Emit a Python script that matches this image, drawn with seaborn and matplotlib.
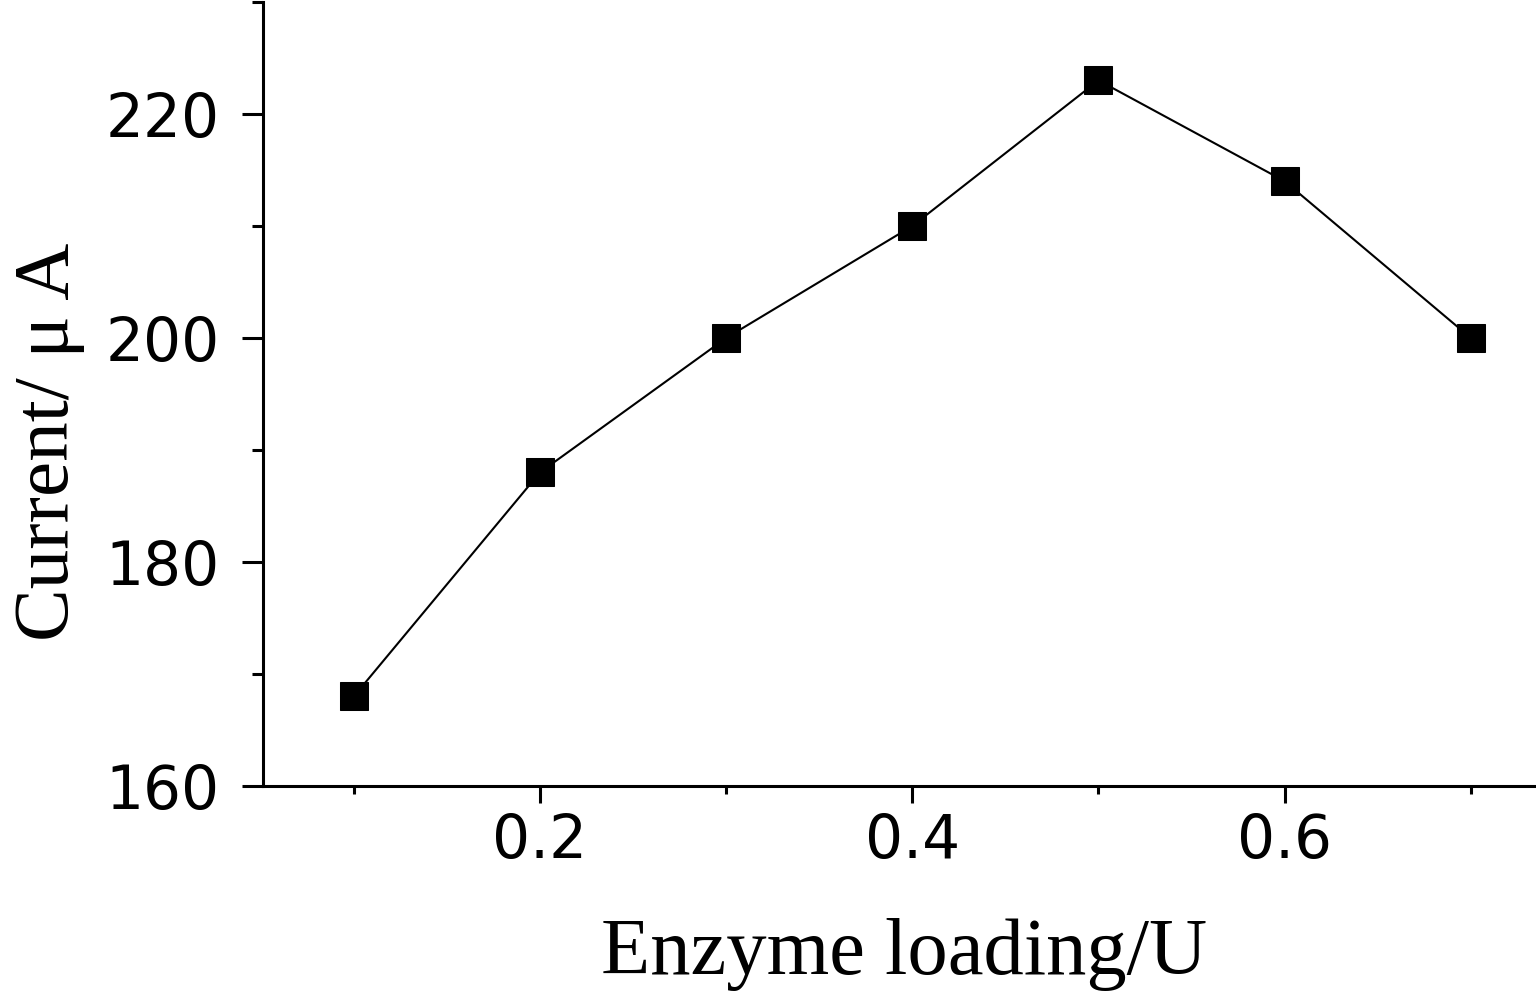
import matplotlib
matplotlib.use("Agg")
import matplotlib.pyplot as plt
import seaborn as sns
import pandas as pd
from matplotlib.ticker import MultipleLocator

enzyme_loading = [0.1, 0.2, 0.3, 0.4, 0.5, 0.6, 0.7]
current = [168, 188, 200, 210, 223, 214, 200]
x_ticks = [0.2, 0.4, 0.6]
x_tick_labels = ["0.2", "0.4", "0.6"]
y_ticks = [160, 180, 200, 220]
y_tick_labels = ["160", "180", "200", "220"]

sns.set_theme(style="ticks")
plt.rcParams['font.family'] = ['DejaVu Sans']

df = pd.DataFrame({"x": enzyme_loading, "y": current})

fig = plt.figure(figsize=(15.36, 10), dpi=100)
ax = fig.add_axes([0.1712, 0.214, 1.0 - 0.1712, 0.998 - 0.214])

sns.lineplot(data=df, x="x", y="y", ax=ax, color="black", linewidth=1.5,
             marker="s", markersize=20, markeredgecolor="black",
             markerfacecolor="black")

ax.set_xlim(0.0512, 0.735)
ax.set_ylim(160, 230)
ax.xaxis.set_minor_locator(MultipleLocator(0.1))
ax.yaxis.set_minor_locator(MultipleLocator(10))
ax.set_xticks(x_ticks)
ax.set_xticklabels(x_tick_labels)
ax.set_yticks(y_ticks)
ax.set_yticklabels(y_tick_labels)

for s in ["top", "right"]:
    ax.spines[s].set_visible(False)
for s in ["left", "bottom"]:
    ax.spines[s].set_linewidth(2.2)
    ax.spines[s].set_color("black")

ax.tick_params(axis="y", which="major", direction="out", length=15, width=2.2,
               labelsize=43, colors="black", pad=16)
ax.tick_params(axis="y", which="minor", direction="out", length=8, width=2.2,
               colors="black")
ax.tick_params(axis="x", which="major", direction="out", length=12, width=2.2,
               labelsize=43, colors="black", pad=7)
ax.tick_params(axis="x", which="minor", direction="out", length=6, width=2.2,
               colors="black")

ax.set_xlabel("Enzyme loading/U", family=["Liberation Serif", "DejaVu Serif"],
              fontsize=58, color="black")
ax.set_ylabel("Current/ μ A", family=["Liberation Serif", "DejaVu Serif"],
              fontsize=57, color="black")
ax.xaxis.set_label_coords(0.504, -0.168)
ax.yaxis.set_label_coords(-0.14, 0.439)

fig.savefig("out.png", dpi=100)
